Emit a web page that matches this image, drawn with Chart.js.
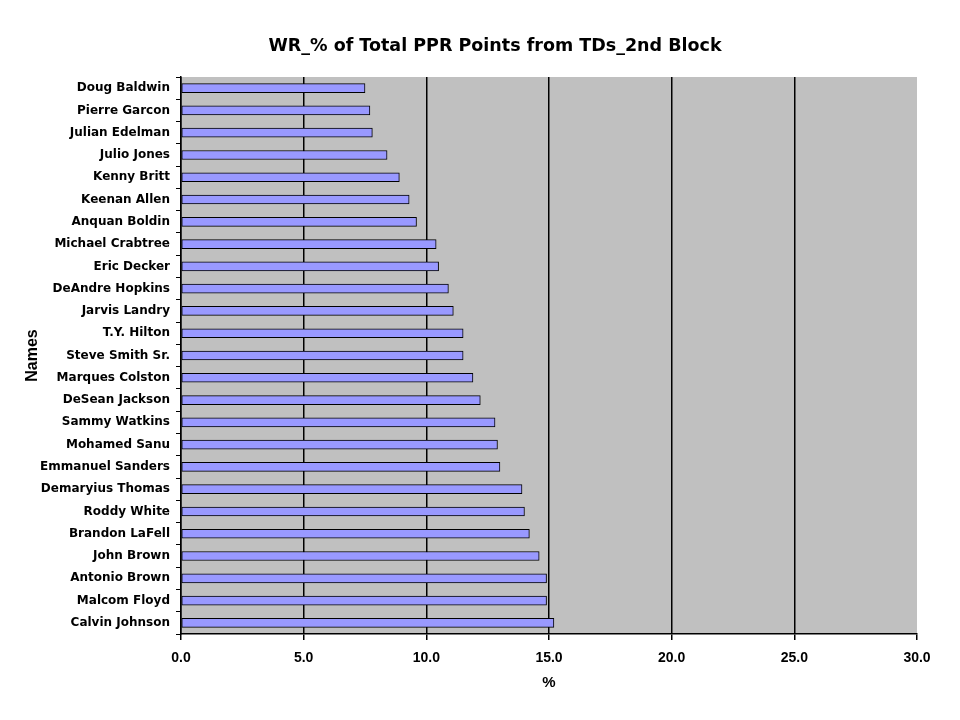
<!DOCTYPE html>
<html>
<head>
<meta charset="utf-8">
<script src="https://cdn.jsdelivr.net/npm/chart.js@4/dist/chart.umd.min.js"></script>
<style>
  html, body { margin: 0; padding: 0; background: #fff; }
  #wrap { width: 960px; height: 720px; }
</style>
</head>
<body>
<div id="wrap"><canvas id="chart" width="960" height="720"></canvas></div>
<script>
var names = [
    'Doug Baldwin', 'Pierre Garcon', 'Julian Edelman', 'Julio Jones', 'Kenny Britt',
    'Keenan Allen', 'Anquan Boldin', 'Michael Crabtree', 'Eric Decker', 'DeAndre Hopkins',
    'Jarvis Landry', 'T.Y. Hilton', 'Steve Smith Sr.', 'Marques Colston', 'DeSean Jackson',
    'Sammy Watkins', 'Mohamed Sanu', 'Emmanuel Sanders', 'Demaryius Thomas', 'Roddy White',
    'Brandon LaFell', 'John Brown', 'Antonio Brown', 'Malcom Floyd', 'Calvin Johnson'
];
var tdShare = [
    7.5, 7.7, 7.8, 8.4, 8.9,
    9.3, 9.6, 10.4, 10.5, 10.9,
    11.1, 11.5, 11.5, 11.9, 12.2,
    12.8, 12.9, 13.0, 13.9, 14.0,
    14.2, 14.6, 14.9, 14.9, 15.2
];
var xMin = 0, xMax = 30, xStep = 5;

var chartTitle = 'WR_% of Total PPR Points from TDs_2nd Block';
var yTitle = 'Names';
var xTitle = '%';

var font = '"Liberation Sans", Arial, sans-serif';
var wideFont = '"DejaVu Sans", Verdana, sans-serif';

// gray plot area like the old Excel charts
var plotBackground = {
    id: 'plotBackground',
    beforeDraw: function (chart) {
        var a = chart.chartArea, ctx = chart.ctx;
        ctx.save();
        ctx.fillStyle = '#c0c0c0';
        ctx.fillRect(a.left, a.top, a.right - a.left, a.bottom - a.top);
        ctx.restore();
    }
};

// title centred on a fixed point, the built-in one centres on the whole canvas
var chartHeading = {
    id: 'chartHeading',
    afterDraw: function (chart) {
        var ctx = chart.ctx;
        ctx.save();
        ctx.font = 'bold 17.5px ' + wideFont;
        ctx.fillStyle = '#000';
        ctx.textAlign = 'center';
        ctx.textBaseline = 'middle';
        ctx.fillText(chartTitle, 495, 46);
        ctx.restore();
    }
};

new Chart(document.getElementById('chart'), {
    type: 'bar',
    data: {
        labels: names,
        datasets: [{
            label: '% of PPR points from TDs',
            data: tdShare,
            backgroundColor: '#9999ff',
            borderColor: '#000',
            borderWidth: 1,
            borderSkipped: false,
            barThickness: 9
        }]
    },
    options: {
        indexAxis: 'y',
        responsive: false,
        animation: false,
        layout: { padding: { top: 77, right: 43, left: 0, bottom: 28 } },
        plugins: {
            legend: { display: false },
            tooltip: { enabled: false }
        },
        scales: {
            x: {
                min: xMin,
                max: xMax,
                afterFit: function (scale) { scale.height = 58; },
                ticks: {
                    stepSize: xStep,
                    color: '#000',
                    padding: 10,
                    font: { family: font, size: 14, weight: 'bold' },
                    callback: function (v) { return v.toFixed(1); }
                },
                grid: {
                    color: function (c) {
                        return (c.tick && c.tick.value === xMax) ? 'rgba(0,0,0,0)' : '#000';
                    },
                    tickColor: '#000',
                    lineWidth: 1.5,
                    tickLength: 6
                },
                border: { color: '#000', width: 1.5 },
                title: {
                    display: true,
                    text: xTitle,
                    color: '#000',
                    font: { family: font, size: 15, weight: 'bold' },
                    padding: { top: 4, bottom: 0 }
                }
            },
            y: {
                afterFit: function (scale) { scale.width = 181; },
                ticks: {
                    color: '#000',
                    padding: 6,
                    font: { family: wideFont, size: 12, weight: 'bold' }
                },
                grid: {
                    drawOnChartArea: false,
                    color: '#000',
                    tickLength: 5
                },
                border: { color: '#000', width: 1.5 },
                title: {
                    display: true,
                    text: yTitle,
                    color: '#000',
                    font: { family: font, size: 16, weight: 'bold' },
                    padding: { top: 23, bottom: 0 }
                }
            }
        }
    },
    plugins: [plotBackground, chartHeading]
});
</script>
</body>
</html>
